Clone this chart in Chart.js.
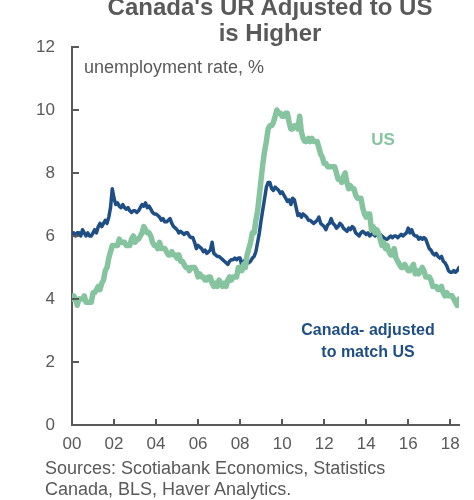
<!DOCTYPE html>
<html>
<head>
<meta charset="utf-8">
<script src="https://cdn.jsdelivr.net/npm/chart.js@4.4.1/dist/chart.umd.min.js"></script>
<style>
  html, body { margin: 0; padding: 0; background: #ffffff; }
  body { width: 474px; height: 500px; position: relative; overflow: hidden; font-family: "Liberation Sans", Arial, sans-serif; color: #595959; }
  #wrap { position: absolute; left: 0; top: 0; width: 474px; height: 500px; }
  .t { position: absolute; white-space: nowrap; }
  #title { left: 70px; width: 400px; top: -6px; text-align: center; font-weight: bold; font-size: 24px; line-height: 26px; color: #595959; }
  #ylab { left: 84px; top: 58px; font-size: 18px; line-height: 19px; color: #595959; }
  #src { left: 45px; top: 458px; font-size: 18px; line-height: 21px; color: #595959; }
  #usLab { left: 333px; width: 100px; top: 130px; text-align: center; font-weight: bold; font-size: 17px; line-height: 19px; color: #86c4a0; }
  #caLab { left: 268px; width: 200px; top: 319px; text-align: center; font-weight: bold; font-size: 16px; line-height: 22px; color: #1f4e85; }
</style>
</head>
<body>
<div id="wrap"><canvas id="c" width="474" height="500"></canvas></div>
<div class="t" id="title">Canada's UR Adjusted to US<br>is Higher</div>
<div class="t" id="ylab">unemployment rate, %</div>
<div class="t" id="usLab">US</div>
<div class="t" id="caLab">Canada- adjusted<br>to match US</div>
<div class="t" id="src">Sources: Scotiabank Economics, Statistics<br>Canada, BLS, Haver Analytics.</div>
<script>
// ---- data (monthly, Jan 2000 - Jun 2018) ----
const startYear = 2000;
const usRate = [
  4.0,4.1,4.0,3.8,4.0,4.0,4.0,4.1,3.9,3.9,3.9,3.9,
  4.2,4.2,4.3,4.4,4.3,4.5,4.6,4.9,5.0,5.3,5.5,5.7,
  5.7,5.7,5.7,5.9,5.8,5.8,5.8,5.7,5.7,5.7,5.9,6.0,
  5.8,5.9,5.9,6.0,6.1,6.3,6.2,6.1,6.1,6.0,5.8,5.7,
  5.7,5.6,5.8,5.6,5.6,5.6,5.5,5.4,5.4,5.5,5.4,5.4,
  5.3,5.4,5.2,5.2,5.1,5.0,5.0,4.9,5.0,5.0,5.0,4.9,
  4.7,4.8,4.7,4.7,4.6,4.6,4.7,4.7,4.5,4.4,4.5,4.4,
  4.6,4.5,4.4,4.5,4.4,4.6,4.7,4.6,4.7,4.7,4.7,5.0,
  5.0,4.9,5.1,5.0,5.4,5.6,5.8,6.1,6.1,6.5,6.8,7.3,
  7.8,8.3,8.7,9.0,9.4,9.5,9.5,9.6,9.8,10.0,9.9,9.9,
  9.8,9.8,9.9,9.9,9.6,9.4,9.4,9.5,9.5,9.4,9.8,9.3,
  9.1,9.0,9.0,9.1,9.0,9.1,9.0,9.0,9.0,8.8,8.6,8.5,
  8.3,8.3,8.2,8.2,8.2,8.2,8.2,8.0,7.8,7.8,7.7,7.9,
  8.0,7.7,7.5,7.6,7.5,7.5,7.3,7.2,7.2,7.2,6.9,6.7,
  6.6,6.7,6.7,6.2,6.3,6.1,6.2,6.1,5.9,5.7,5.8,5.6,
  5.7,5.5,5.4,5.4,5.6,5.3,5.2,5.1,5.0,5.0,5.1,5.0,
  4.9,4.9,5.0,5.1,4.8,4.9,4.8,4.9,5.0,4.9,4.7,4.7,
  4.7,4.6,4.4,4.4,4.4,4.3,4.3,4.4,4.2,4.1,4.2,4.1,
  4.1,4.1,4.0,3.9,3.8,4.0
];
const canadaAdjusted = [
  6.0,6.1,6.0,6.1,6.1,6.0,6.2,6.1,6.0,6.1,6.0,6.0,
  6.1,6.2,6.1,6.3,6.4,6.3,6.4,6.5,6.4,6.6,6.9,7.5,
  7.2,7.0,7.05,6.95,6.9,7.0,6.9,6.85,6.9,6.8,6.75,6.8,
  6.8,6.75,6.8,6.9,7.0,6.95,7.05,6.9,6.95,6.85,6.75,6.7,
  6.7,6.65,6.6,6.5,6.55,6.45,6.45,6.5,6.55,6.4,6.3,6.25,
  6.2,6.1,6.15,6.1,6.05,6.1,6.1,6.0,5.95,5.95,5.8,5.6,
  5.7,5.65,5.6,5.5,5.55,5.45,5.5,5.55,5.8,5.45,5.4,5.35,
  5.35,5.3,5.25,5.2,5.15,5.1,5.2,5.25,5.25,5.3,5.25,5.3,
  5.3,5.05,5.2,5.25,5.2,5.15,5.2,5.3,5.35,5.5,5.8,6.1,
  6.5,6.85,7.2,7.55,7.7,7.7,7.5,7.45,7.55,7.5,7.45,7.35,
  7.4,7.3,7.2,7.1,7.15,7.0,7.2,7.15,6.9,6.65,6.7,6.6,
  6.7,6.65,6.6,6.5,6.5,6.45,6.4,6.45,6.5,6.6,6.4,6.35,
  6.3,6.2,6.35,6.4,6.55,6.4,6.35,6.25,6.3,6.4,6.35,6.25,
  6.2,6.15,6.25,6.2,6.3,6.25,6.1,6.05,6.0,6.1,6.15,6.1,
  6.05,6.1,6.0,6.05,6.1,6.0,6.05,6.0,6.05,6.0,5.95,5.9,
  5.9,5.95,6.0,5.95,6.0,6.0,5.95,6.0,6.05,6.0,6.05,6.1,
  6.25,6.1,6.2,6.05,6.0,6.0,5.9,5.95,5.9,5.95,5.9,5.75,
  5.6,5.55,5.45,5.4,5.45,5.35,5.3,5.35,5.2,5.15,5.05,4.9,
  4.85,4.85,4.9,4.85,4.9,5.0
];
const tickYears = [2000,2002,2004,2006,2008,2010,2012,2014,2016,2018];
const tickLabels = ["00","02","04","06","08","10","12","14","16","18"];
const yTicks = [0,2,4,6,8,10,12];

const toPoints = arr => arr.map((v, i) => ({ x: startYear + i / 12, y: v }));
const lastX = startYear + (usRate.length - 1) / 12;

const axisColor = '#595959';
const fontFam = '"Liberation Sans", Arial, sans-serif';

const innerTicks = {
  id: 'innerTicks',
  afterDatasetsDraw(chart) {
    const ctx = chart.ctx;
    const xs = chart.scales.x, ys = chart.scales.y;
    const a = chart.chartArea;
    ctx.save();
    ctx.strokeStyle = axisColor;
    ctx.lineWidth = 2;
    ctx.beginPath();
    yTicks.forEach(v => {
      if (v === 0) return;
      const y = Math.round(ys.getPixelForValue(v));
      ctx.moveTo(a.left, y);
      ctx.lineTo(a.left + 7, y);
    });
    tickYears.forEach(v => {
      if (v === startYear) return;
      const x = Math.round(xs.getPixelForValue(v));
      ctx.moveTo(x, a.bottom);
      ctx.lineTo(x, a.bottom - 6);
    });
    ctx.stroke();
    ctx.restore();
  }
};

new Chart(document.getElementById('c'), {
  type: 'line',
  data: {
    datasets: [
      {
        label: 'US',
        data: toPoints(usRate),
        borderColor: '#86c4a0',
        borderWidth: 5.5,
        pointRadius: 0,
        tension: 0,
        borderJoinStyle: 'round',
        borderCapStyle: 'round',
        order: 0
      },
      {
        label: 'Canada- adjusted to match US',
        data: toPoints(canadaAdjusted),
        borderColor: '#1f4e85',
        borderWidth: 3.5,
        pointRadius: 0,
        tension: 0,
        borderJoinStyle: 'round',
        borderCapStyle: 'round',
        order: 1
      }
    ]
  },
  options: {
    responsive: false,
    devicePixelRatio: 1,
    animation: false,
    layout: { padding: { left: 0, right: 15, top: 47, bottom: 35 } },
    plugins: { legend: { display: false }, tooltip: { enabled: false }, title: { display: false } },
    scales: {
      x: {
        type: 'linear',
        min: startYear,
        max: lastX,
        afterBuildTicks: s => { s.ticks = tickYears.map(v => ({ value: v })); },
        afterFit: s => { s.height = 40; },
        ticks: {
          autoSkip: false,
          maxRotation: 0,
          padding: 9,
          color: axisColor,
          font: { family: fontFam, size: 17 },
          callback: v => { const k = tickYears.indexOf(v); return k >= 0 ? tickLabels[k] : ''; }
        },
        grid: { display: true, drawOnChartArea: false, drawTicks: false },
        border: { display: true, color: axisColor, width: 2 }
      },
      y: {
        min: 0,
        max: 12,
        afterBuildTicks: s => { s.ticks = yTicks.map(v => ({ value: v })); },
        afterFit: s => { s.width = 72; },
        ticks: {
          padding: 17,
          color: axisColor,
          font: { family: fontFam, size: 17 }
        },
        grid: { display: true, drawOnChartArea: false, drawTicks: false },
        border: { display: true, color: axisColor, width: 2 }
      }
    }
  },
  plugins: [innerTicks]
});
</script>
</body>
</html>
